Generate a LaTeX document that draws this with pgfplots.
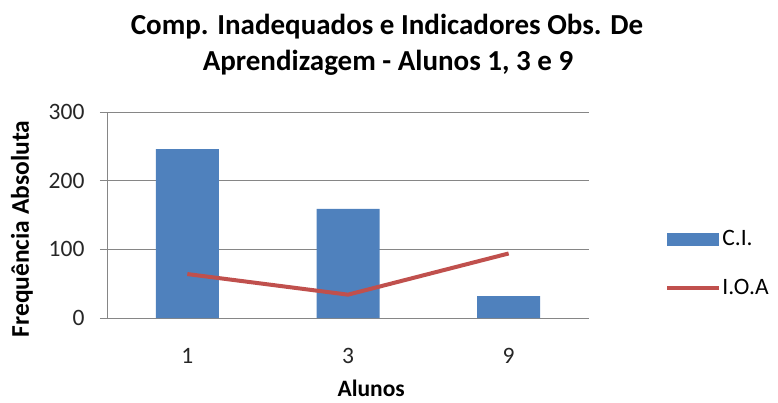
\documentclass[border=0pt]{standalone}
\usepackage{fontspec}
\setmainfont{Carlito}
\usepackage{pgfplots}
\pgfplotsset{compat=1.18}
\definecolor{cibar}{RGB}{79,129,189}
\definecolor{ioaline}{RGB}{192,80,77}
\definecolor{gridc}{RGB}{134,134,134}
\begin{document}
\begin{tikzpicture}[x=1pt,y=1pt]
\useasboundingbox (-107,-84) rectangle (671,318);
\begin{axis}[
  at={(0pt,0pt)}, anchor=south west,
  scale only axis, width=482pt, height=206pt,
  xmin=-0.5, xmax=2.5, ymin=0, ymax=300,
  xtick={0,1,2}, xticklabels={1,3,9},
  ytick={0,100,200,300},
  axis x line=bottom, axis y line=left,
  axis line style={gridc, line width=0.8pt, -},
  ymajorgrids, grid style={gridc, line width=0.8pt},
  tick align=outside, major tick length=7pt,
  xtick style={draw=none},
  ytick style={gridc, line width=0.8pt},
  /pgf/number format/assume math mode=true,
  tick label style={font=\fontsize{23.5}{28}\selectfont, text=black!85},
  x tick label style={anchor=north, yshift=-20pt},
  y tick label style={anchor=east, xshift=-12pt},
  xlabel={\textbf{Alunos}},
  xlabel style={at={(axis description cs:0.548,-0.38)}, anchor=base, font=\fontsize{23.5}{28}\selectfont},
  ylabel={\textbf{Frequência Absoluta}},
  ylabel style={at={(axis description cs:-0.1763,0.432)}, anchor=center, rotate=0, font=\fontsize{25.5}{30}\selectfont},
  legend style={at={(axis description cs:1.158,0.43)}, anchor=north west, draw=none, fill=none,
    font=\fontsize{23.5}{28}\selectfont, inner sep=0pt, row sep=30pt,
    nodes={inner sep=1pt}},
  legend cell align=left,
  clip=false,
]
\addplot[ybar, bar width=63pt, fill=cibar, draw=none,
  legend image code/.code={\fill[cibar] (0pt,-6.5pt) rectangle (52pt,6.5pt);}]
  coordinates {(0,246) (1,159) (2,32)};
\addlegendentry{C.I.}
\addplot[ioaline, line width=4pt, mark=none,
  legend image code/.code={\draw[ioaline, line width=4pt] (0pt,0pt) -- (52pt,0pt);}]
  coordinates {(0,64) (1,34) (2,94)};
\addlegendentry{I.O.A}
\end{axis}
\node[anchor=base, font=\fontsize{29}{34}\selectfont\bfseries] at (280pt,283pt) {Comp. Inadequados e Indicadores Obs. De};
\node[anchor=base, font=\fontsize{29}{34}\selectfont\bfseries] at (281pt,247pt) {Aprendizagem - Alunos 1, 3 e 9};
\end{tikzpicture}
\end{document}
